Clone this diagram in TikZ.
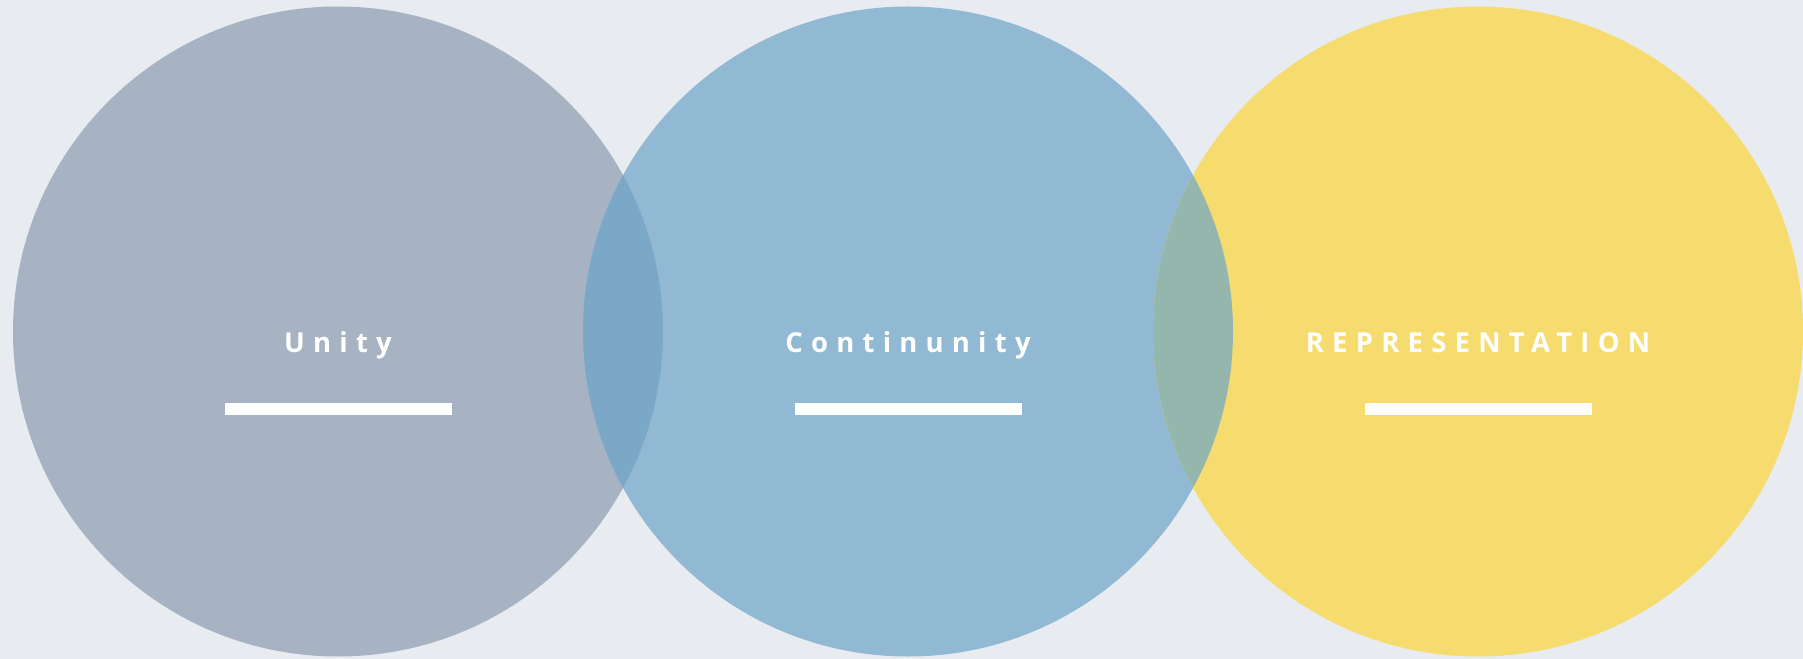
\documentclass[tikz,border=0pt]{standalone}
\usepackage{fontspec}
\setmainfont{Open Sans}
\usetikzlibrary{positioning}

\definecolor{bgcol}{HTML}{E8ECF1}
\definecolor{unitycol}{HTML}{A7B3C3}
\definecolor{contcol}{HTML}{91B9D4}
\definecolor{reprcol}{HTML}{F6DC6E}
\definecolor{lensA}{HTML}{7CA8C7}
\definecolor{lensB}{HTML}{94B6AD}

\tikzset{
  disc/.style={circle, inner sep=0pt, minimum size=2*\radius},
  label/.style={anchor=base, text=white, font=\fontsize{20.6}{24}\selectfont\bfseries\addfontfeatures{LetterSpace=30}},
  bar/.style={fill=white, inner sep=0pt, minimum width=170.25pt, minimum height=9pt}
}

\begin{document}
\begin{tikzpicture}[x=0.75pt, y=-0.75pt]

\def \radius {243.75pt}
\def \gap {570}

\fill[bgcol] (0,0) rectangle (1803,659);
\useasboundingbox (0,0) rectangle (1803,659);

\node (unity) [disc, fill=unitycol] at (338,331.5) {};
\node (cont) [disc, fill=contcol] at (338+\gap,331.5) {};
\node (repr) [disc, fill=reprcol] at (338+2*\gap,331.5) {};

% overlaps
\begin{scope}
  \clip (unity.center) circle (\radius);
  \fill[lensA] (cont.center) circle (\radius);
\end{scope}
\begin{scope}
  \clip (cont.center) circle (\radius);
  \fill[lensB] (repr.center) circle (\radius);
\end{scope}

\foreach \name/\txt [count=\i from 0] in {unity/Unity, cont/Continunity, repr/REPRESENTATION}
{
  \node (\name txt) [label] at (338+\i*\gap,352.3) {\txt};
  \node (\name bar) [bar] at (338.5+\i*\gap,409) {};
}

\end{tikzpicture}
\end{document}
